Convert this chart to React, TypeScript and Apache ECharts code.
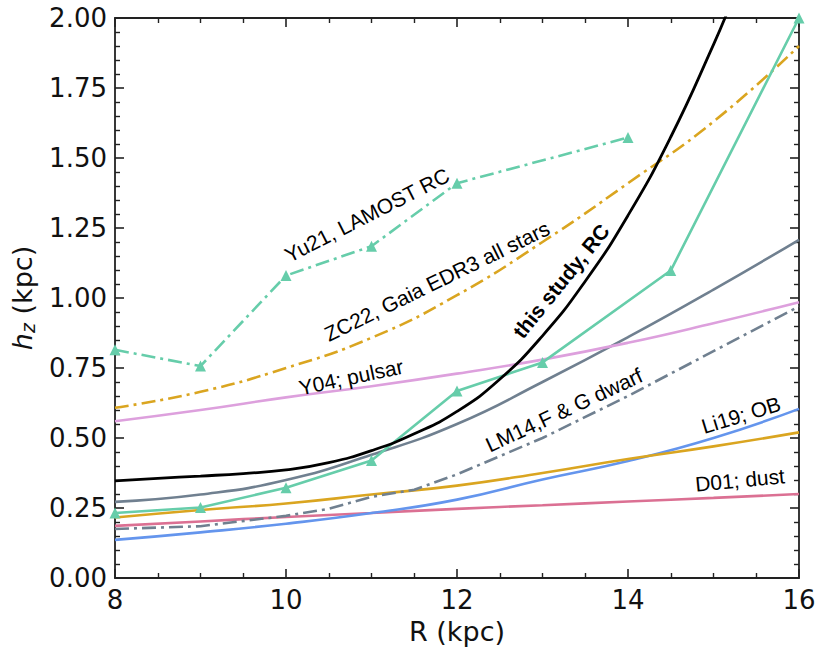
import { useEffect, useRef } from "react";
import * as echarts from "echarts";

// radial grid used by most of the literature curves
const R_GRID = [8, 9, 10, 11, 12, 13, 14, 15, 16];

// this study, RC (black curve)
const thisStudyR = [8, 8.5, 9, 9.5, 10, 10.5, 11, 11.5, 12, 12.5, 13, 13.5, 14, 14.5, 15, 15.2];
const thisStudyHz = [0.347, 0.356, 0.364, 0.373, 0.386, 0.412, 0.455, 0.515, 0.595, 0.71, 0.865, 1.06, 1.295, 1.575, 1.905, 2.05];

// Yu21, LAMOST RC (dash-dot with triangles)
const yu21R = [8, 9, 10, 11, 12, 14];
const yu21Hz = [0.815, 0.757, 1.08, 1.185, 1.41, 1.573];

// second RC sample (solid with triangles)
const rcR = [8, 9, 10, 11, 12, 13, 14.5, 16];
const rcHz = [0.232, 0.252, 0.322, 0.42, 0.668, 0.77, 1.098, 2.0];

// ZC22, Gaia EDR3 all stars
const zc22Hz = [0.608, 0.665, 0.75, 0.858, 1.01, 1.2, 1.41, 1.63, 1.9];
// Y04; pulsar
const y04Hz = [0.56, 0.6, 0.645, 0.685, 0.73, 0.78, 0.84, 0.91, 0.985];
// LM14 thin-disc curve (solid slate)
const lm14Hz = [0.272, 0.298, 0.35, 0.44, 0.55, 0.7, 0.86, 1.03, 1.208];
// LM14, F & G dwarf (dash-dot slate)
const lm14dR = [8, 9, 10, 10.5, 11, 11.5, 12, 13, 14, 15, 16];
const lm14dHz = [0.175, 0.185, 0.222, 0.247, 0.29, 0.315, 0.37, 0.5, 0.65, 0.81, 0.97];
// orange solid curve
const orangeHz = [0.216, 0.243, 0.266, 0.298, 0.33, 0.375, 0.425, 0.47, 0.52];
// Li19; OB
const li19Hz = [0.136, 0.163, 0.194, 0.232, 0.28, 0.352, 0.418, 0.5, 0.604];
// D01; dust
const d01Hz = [0.186, 0.202, 0.218, 0.232, 0.247, 0.26, 0.273, 0.286, 0.3];

const xTicks = [8, 10, 12, 14, 16];
const yTicks = [0, 0.25, 0.5, 0.75, 1.0, 1.25, 1.5, 1.75, 2.0];

const pairs = (xs: number[], ys: number[]) => xs.map((x, i) => [x, ys[i]]);

const DASHDOT = [14, 5, 3, 5];
const LABEL_FONT = "Liberation Sans";

const curve = (
  name: string,
  xs: number[],
  ys: number[],
  color: string,
  opts: { dash?: boolean; width?: number; markers?: boolean; smooth?: boolean } = {}
) => ({
  name,
  type: "line",
  data: pairs(xs, ys),
  smooth: opts.smooth ?? true,
  showSymbol: !!opts.markers,
  symbol: "triangle",
  symbolSize: 11,
  itemStyle: { color },
  lineStyle: {
    color,
    width: opts.width ?? 2.6,
    type: opts.dash ? DASHDOT : "solid",
  },
  clip: true,
});

const rotLabel = (text: string, x: number, y: number, deg: number, bold = false) => ({
  type: "text",
  x,
  y,
  rotation: (deg * Math.PI) / 180,
  z: 100,
  style: {
    text,
    fill: "#000",
    fontSize: 21,
    fontFamily: LABEL_FONT,
    fontWeight: bold ? "bold" : "normal",
    align: "center",
    verticalAlign: "middle",
  },
});

const axisBase = {
  type: "value",
  axisLine: { show: true, onZero: false, lineStyle: { color: "#222", width: 1.8 } },
  axisTick: { show: true, inside: true, length: 9, lineStyle: { color: "#222", width: 1.6 } },
  splitLine: { show: false },
};

const App = () => {
  const chartRef = useRef<HTMLDivElement>(null);

  useEffect(() => {
    if (!chartRef.current) return;
    const chart = echarts.init(chartRef.current, null, { renderer: "svg" });

    const xAxisCommon = {
      ...axisBase,
      min: xTicks[0],
      max: xTicks[xTicks.length - 1],
      interval: xTicks[1] - xTicks[0],
      minorTick: { show: true, splitNumber: 4, length: 5, lineStyle: { color: "#222", width: 1.4 } },
    };
    const yAxisCommon = {
      ...axisBase,
      min: yTicks[0],
      max: yTicks[yTicks.length - 1],
      interval: yTicks[1] - yTicks[0],
      minorTick: { show: true, splitNumber: 5, length: 5, lineStyle: { color: "#222", width: 1.4 } },
    };

    const option = {
      animation: false,
      backgroundColor: "#fff",
      grid: { left: 115, right: 31, top: 18, bottom: 80 },
      xAxis: [
        {
          ...xAxisCommon,
          position: "bottom",
          name: "R (kpc)",
          nameLocation: "middle",
          nameGap: 38,
          nameTextStyle: { fontSize: 27, fontFamily: "DejaVu Sans", color: "#111" },
          axisLabel: { fontSize: 26, fontFamily: "DejaVu Sans", color: "#111", margin: 9 },
        },
        { ...xAxisCommon, position: "top", axisLabel: { show: false } },
      ],
      yAxis: [
        {
          ...yAxisCommon,
          position: "left",
          axisLabel: {
            fontSize: 26,
            fontFamily: "DejaVu Sans",
            color: "#111",
            margin: 8,
            formatter: (v: number) => v.toFixed(2),
          },
        },
        { ...yAxisCommon, position: "right", axisLabel: { show: false } },
      ],
      series: [
        curve("D01; dust", R_GRID, d01Hz, "#db7093"),
        curve("Li19; OB", R_GRID, li19Hz, "#6495ed"),
        curve("orange", R_GRID, orangeHz, "#daa520"),
        curve("LM14,F & G dwarf", lm14dR, lm14dHz, "#708090", { dash: true, smooth: false }),
        curve("LM14", R_GRID, lm14Hz, "#708090"),
        curve("Y04; pulsar", R_GRID, y04Hz, "#dda0dd"),
        curve("ZC22, Gaia EDR3 all stars", R_GRID, zc22Hz, "#daa520", { dash: true }),
        curve("RC", rcR, rcHz, "#66cdaa", { markers: true, smooth: false }),
        curve("Yu21, LAMOST RC", yu21R, yu21Hz, "#66cdaa", { dash: true, markers: true, smooth: false }),
        curve("this study, RC", thisStudyR, thisStudyHz, "#000", { width: 2.8 }),
      ],
      graphic: [
        rotLabel("Yu21, LAMOST RC", 367, 215, 27),
        rotLabel("ZC22, Gaia EDR3 all stars", 437, 281, 26),
        rotLabel("this study, RC", 561, 281, 51, true),
        rotLabel("Y04; pulsar", 351, 377, 12),
        rotLabel("LM14,F & G dwarf", 564, 410, 25),
        rotLabel("Li19; OB", 741, 415, 17),
        rotLabel("D01; dust", 740, 480, 5.5),
        {
          type: "text",
          x: 22,
          y: 298,
          rotation: Math.PI / 2,
          style: {
            text: "{i|h}{s|z} (kpc)",
            fill: "#111",
            fontSize: 27,
            fontFamily: "DejaVu Sans",
            align: "center",
            verticalAlign: "middle",
            rich: {
              i: { fontSize: 27, fontStyle: "italic", fontFamily: "DejaVu Sans", lineHeight: 30 },
              s: { fontSize: 19, fontStyle: "italic", fontFamily: "DejaVu Sans", lineHeight: 14, verticalAlign: "bottom" },
            },
          },
        },
      ],
    };

    chart.setOption(option);
    return () => {
      chart.dispose();
    };
  }, []);

  return (
    <div
      ref={chartRef}
      style={{ position: "absolute", left: 0, top: 0, width: 830, height: 658 }}
    />
  );
};

export default App;
